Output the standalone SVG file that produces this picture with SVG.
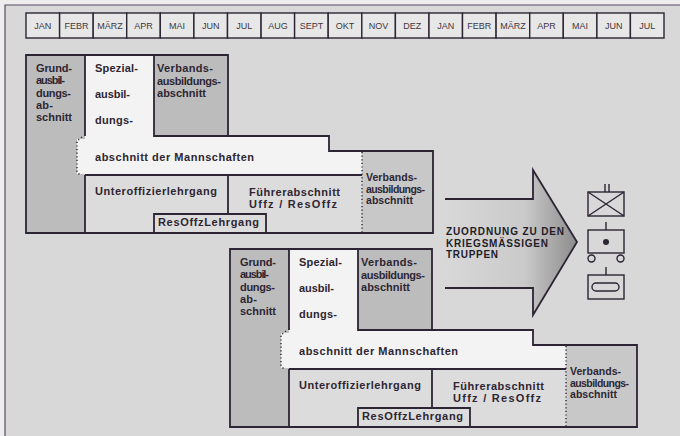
<svg xmlns="http://www.w3.org/2000/svg" width="680" height="436" viewBox="0 0 680 436">
<defs>
<style>
.ln{fill:none;stroke:#2d2434;stroke-width:1.8}
.dot{fill:none;stroke:#2d2434;stroke-width:1.4;stroke-dasharray:1.2 2.4}
.t{font-family:"Liberation Sans",Arial,sans-serif;font-weight:bold;font-size:11px;fill:#2e2632}
.ts{font-family:"Liberation Sans",Arial,sans-serif;font-weight:bold;font-size:10.5px;fill:#2e2632}
.ta{font-family:"Liberation Sans",Arial,sans-serif;font-weight:bold;font-size:10px;fill:#231c28}
.mo rect{fill:#e7e7e7;stroke:#2d2434;stroke-width:1.4}
.mo text{font-family:"Liberation Sans",Arial,sans-serif;font-size:9px;fill:#3e3842;text-anchor:middle}
.dk{fill:#bcbcbc}
.md{fill:#c8c8c8}
.wh{fill:#f3f3f3}
.lt{fill:#dcdcdc}
.sym{fill:none;stroke:#2d2434;stroke-width:1.4}
</style>
<linearGradient id="ag" x1="445" y1="0" x2="577" y2="0" gradientUnits="userSpaceOnUse">
<stop offset="0" stop-color="#d8d8d8"/>
<stop offset="0.6" stop-color="#cacaca"/>
<stop offset="1" stop-color="#8c8c8c"/>
</linearGradient>
</defs>
<rect x="0" y="0" width="680" height="436" fill="#ededed"/>
<rect x="5" y="5" width="675" height="431" fill="#d8d8d8"/>
<path d="M5,436 V5 H680" fill="none" stroke="#5a4c64" stroke-width="1.2"/>

<g id="months" class="mo">
<g id="m1"><rect x="26" y="13" width="33.6" height="25"/><text x="42.8" y="28.8">JAN</text></g>
<g id="m2"><rect x="59.6" y="13" width="33.6" height="25"/><text x="76.4" y="28.8">FEBR</text></g>
<g id="m3"><rect x="93.2" y="13" width="33.5" height="25"/><text x="110" y="28.8">MÄRZ</text></g>
<g id="m4"><rect x="126.7" y="13" width="33.6" height="25"/><text x="143.5" y="28.8">APR</text></g>
<g id="m5"><rect x="160.3" y="13" width="33.6" height="25"/><text x="177.1" y="28.8">MAI</text></g>
<g id="m6"><rect x="193.9" y="13" width="33.6" height="25"/><text x="210.7" y="28.8">JUN</text></g>
<g id="m7"><rect x="227.5" y="13" width="33.6" height="25"/><text x="244.3" y="28.8">JUL</text></g>
<g id="m8"><rect x="261.1" y="13" width="33.5" height="25"/><text x="277.9" y="28.8">AUG</text></g>
<g id="m9"><rect x="294.6" y="13" width="33.6" height="25"/><text x="311.4" y="28.8">SEPT</text></g>
<g id="m10"><rect x="328.2" y="13" width="33.6" height="25"/><text x="345" y="28.8">OKT</text></g>
<g id="m11"><rect x="361.8" y="13" width="33.6" height="25"/><text x="378.6" y="28.8">NOV</text></g>
<g id="m12"><rect x="395.4" y="13" width="33.6" height="25"/><text x="412.2" y="28.8">DEZ</text></g>
<g id="m13"><rect x="429" y="13" width="33.5" height="25"/><text x="445.8" y="28.8">JAN</text></g>
<g id="m14"><rect x="462.5" y="13" width="33.6" height="25"/><text x="479.3" y="28.8">FEBR</text></g>
<g id="m15"><rect x="496.1" y="13" width="33.6" height="25"/><text x="512.9" y="28.8">MÄRZ</text></g>
<g id="m16"><rect x="529.7" y="13" width="33.6" height="25"/><text x="546.5" y="28.8">APR</text></g>
<g id="m17"><rect x="563.3" y="13" width="33.6" height="25"/><text x="580.1" y="28.8">MAI</text></g>
<g id="m18"><rect x="596.9" y="13" width="33.5" height="25"/><text x="613.7" y="28.8">JUN</text></g>
<g id="m19"><rect x="630.4" y="13" width="33.6" height="25"/><text x="647.2" y="28.8">JUL</text></g>
</g>

<g id="block1">
<g id="b1-grund"><rect class="dk" x="26" y="55" width="59" height="178"/>
<text class="t" x="36" y="72" textLength="36">Grund-</text>
<text class="t" x="36" y="84.3" textLength="29">ausbil-</text>
<text class="t" x="36" y="96.6" textLength="35">dungs-</text>
<text class="t" x="36" y="109" textLength="17">ab-</text>
<text class="t" x="36" y="121.3" textLength="36">schnitt</text></g>
<g id="b1-spezial"><rect class="wh" x="85" y="55" width="69" height="82"/>
<path class="wh" d="M85,136 H329 V151 H362 V175 H85 Z"/>
<rect class="wh" x="77" y="139" width="9" height="35"/>
<text class="t" x="95" y="71.5" textLength="43">Spezial-</text>
<text class="t" x="95" y="98" textLength="35">ausbil-</text>
<text class="t" x="95" y="123.5" textLength="38">dungs-</text>
<text class="t" x="95" y="161" textLength="159">abschnitt der Mannschaften</text></g>
<g id="b1-verbands1"><rect class="dk" x="154" y="55" width="74" height="81"/>
<text class="t" x="157" y="72" textLength="56">Verbands-</text>
<text class="t" x="157" y="84.5" textLength="64">ausbildungs-</text>
<text class="t" x="157" y="97" textLength="49">abschnitt</text></g>
<g id="b1-uffz"><rect class="lt" x="85" y="175" width="143" height="58"/>
<text class="t" x="95" y="194.5" textLength="122">Unteroffizierlehrgang</text></g>
<g id="b1-fuehrer"><rect class="lt" x="228" y="175" width="134" height="58"/>
<text class="t" x="249" y="195.5" textLength="91">Führerabschnitt</text>
<text class="t" x="249" y="207.5" textLength="88">Uffz / ResOffz</text></g>
<g id="b1-resoffz"><rect class="lt" x="154" y="214" width="112" height="19"/>
<text class="t" x="158" y="226" textLength="101">ResOffzLehrgang</text></g>
<g id="b1-verbands2"><rect class="md" x="362" y="151" width="71" height="82"/>
<text class="ts" x="366" y="180.5" textLength="51">Verbands-</text>
<text class="ts" x="366" y="192.5" textLength="59">ausbildungs-</text>
<text class="ts" x="366" y="204" textLength="47">abschnitt</text></g>
<g id="b1-lines">
<path class="ln" d="M26,55 H228 V136 H329 V151 H433 V233 H26 Z"/>
<path class="ln" d="M85,55 V136 M85,175 V233 M154,55 V136 H329 M85,175 H362 M228,175 V214 M154,233 V214 H266 V233"/>
<path class="dot" d="M82,137 L77,141 V172 L81,176"/>
<path class="dot" d="M362,152 V233"/>
</g>
</g>

<g id="block2" transform="translate(204,194)">
<g id="b2-grund"><rect class="dk" x="26" y="55" width="59" height="178"/>
<text class="t" x="36" y="72" textLength="36">Grund-</text>
<text class="t" x="36" y="84.3" textLength="29">ausbil-</text>
<text class="t" x="36" y="96.6" textLength="35">dungs-</text>
<text class="t" x="36" y="109" textLength="17">ab-</text>
<text class="t" x="36" y="121.3" textLength="36">schnitt</text></g>
<g id="b2-spezial"><rect class="wh" x="85" y="55" width="69" height="82"/>
<path class="wh" d="M85,136 H329 V151 H362 V175 H85 Z"/>
<rect class="wh" x="77" y="139" width="9" height="35"/>
<text class="t" x="95" y="71.5" textLength="43">Spezial-</text>
<text class="t" x="95" y="98" textLength="35">ausbil-</text>
<text class="t" x="95" y="123.5" textLength="38">dungs-</text>
<text class="t" x="95" y="161" textLength="159">abschnitt der Mannschaften</text></g>
<g id="b2-verbands1"><rect class="dk" x="154" y="55" width="74" height="81"/>
<text class="t" x="157" y="72" textLength="56">Verbands-</text>
<text class="t" x="157" y="84.5" textLength="64">ausbildungs-</text>
<text class="t" x="157" y="97" textLength="49">abschnitt</text></g>
<g id="b2-uffz"><rect class="lt" x="85" y="175" width="143" height="58"/>
<text class="t" x="95" y="194.5" textLength="122">Unteroffizierlehrgang</text></g>
<g id="b2-fuehrer"><rect class="lt" x="228" y="175" width="134" height="58"/>
<text class="t" x="249" y="195.5" textLength="91">Führerabschnitt</text>
<text class="t" x="249" y="207.5" textLength="88">Uffz / ResOffz</text></g>
<g id="b2-resoffz"><rect class="lt" x="154" y="214" width="112" height="19"/>
<text class="t" x="158" y="226" textLength="101">ResOffzLehrgang</text></g>
<g id="b2-verbands2"><rect class="md" x="362" y="151" width="71" height="82"/>
<text class="ts" x="366" y="180.5" textLength="51">Verbands-</text>
<text class="ts" x="366" y="192.5" textLength="59">ausbildungs-</text>
<text class="ts" x="366" y="204" textLength="47">abschnitt</text></g>
<g id="b2-lines">
<path class="ln" d="M26,55 H228 V136 H329 V151 H433 V233 H26 Z"/>
<path class="ln" d="M85,55 V136 M85,175 V233 M154,55 V136 H329 M85,175 H362 M228,175 V214 M154,233 V214 H266 V233"/>
<path class="dot" d="M82,137 L77,141 V172 L81,176"/>
<path class="dot" d="M362,152 V233"/>
</g>
</g>

<g id="arrow">
<path d="M445,199 H533 V170 L577,242 L533,315 V288 H445 Z" fill="url(#ag)" stroke="none"/>
<path class="ln" d="M445,199 H533 V170 L577,242 L533,315 V288 H445"/>
<text class="ta" x="446" y="235" textLength="118">ZUORDNUNG ZU DEN</text>
<text class="ta" x="446" y="246.5" textLength="102">KRIEGSMÄSSIGEN</text>
<text class="ta" x="446" y="258" textLength="52">TRUPPEN</text>
</g>

<g id="sym1">
<rect class="sym" x="588" y="192" width="36" height="24"/>
<path class="sym" d="M588,192 L624,216 M624,192 L588,216 M605,184 V192 M609,184 V192"/>
</g>
<g id="sym2">
<rect class="sym" x="588" y="230" width="36" height="23"/>
<path class="sym" d="M606,222 V230"/>
<circle cx="606" cy="242" r="3" fill="#2d2434"/>
<circle class="sym" cx="591.5" cy="258.5" r="3.5"/>
<circle class="sym" cx="620.5" cy="258.5" r="3.5"/>
</g>
<g id="sym3">
<rect class="sym" x="588" y="275" width="36" height="24"/>
<path class="sym" d="M606,267 V275"/>
<rect class="sym" x="592" y="283" width="27" height="8" rx="4"/>
</g>
</svg>
